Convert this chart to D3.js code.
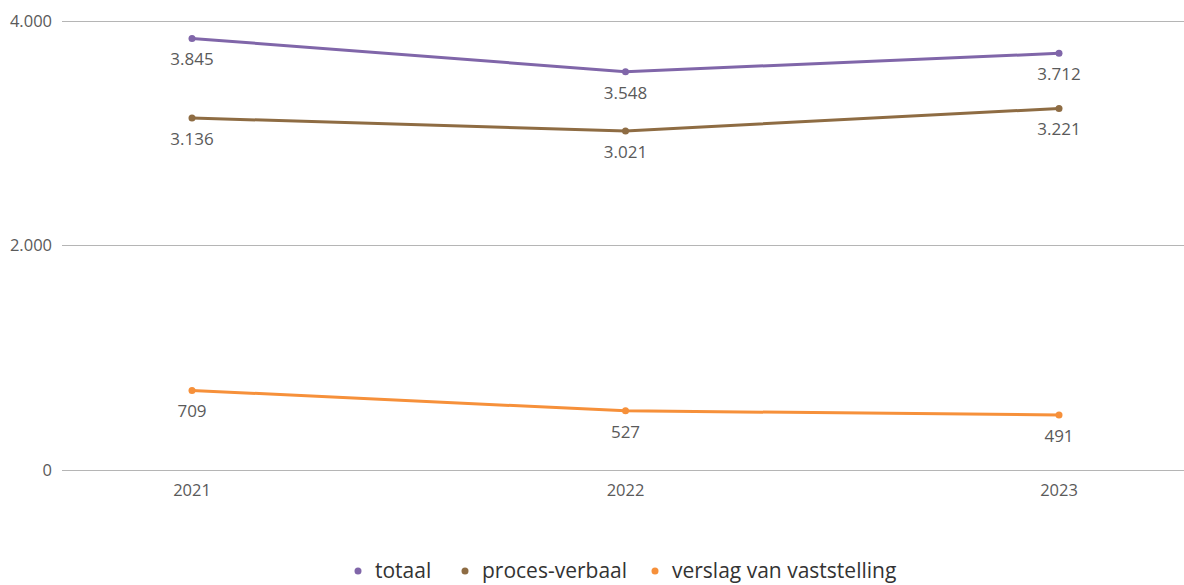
<!DOCTYPE html>
<html><head><meta charset="utf-8">
<script src="https://cdn.jsdelivr.net/npm/d3@7"></script>
<style>body{margin:0;background:#fff;}svg{display:block;font-family:"Open Sans",sans-serif;}</style>
</head><body><svg id="c" width="1184" height="585"></svg>
<script>
const years = ["2021","2022","2023"];
const seriesNames = ["totaal","proces-verbaal","verslag van vaststelling"];
const totaal = [3845,3548,3712];
const procesVerbaal = [3136,3021,3221];
const verslag = [709,527,491];
const yTicks = [0,2000,4000];
const colors = ["#8066a9","#8e6c43","#f6903a"];

const svg = d3.select("#c");
const x = d3.scalePoint().domain(years).range([192,1059]);
const y = d3.scaleLinear().domain([0,4000]).range([470,21]);
const fmt = d3.formatLocale({decimal:",",thousands:".",grouping:[3],currency:["",""]}).format(",d");

// grid
svg.append("g").selectAll("line").data(yTicks).join("line")
 .attr("x1",62).attr("x2",1184).attr("y1",d=>y(d)).attr("y2",d=>y(d))
 .attr("stroke","#b5b5b5").attr("stroke-width",1).attr("shape-rendering","crispEdges");
svg.append("g").selectAll("text").data(yTicks).join("text")
 .attr("x",52).attr("y",d=>y(d)).attr("dy","0.35em").attr("text-anchor","end")
 .attr("fill","#5a5a5a").attr("font-size",16.5).text(d=>fmt(d));
svg.append("g").selectAll("text").data(years).join("text")
 .attr("x",d=>x(d)).attr("y",496).attr("text-anchor","middle")
 .attr("fill","#5a5a5a").attr("font-size",16.5).text(d=>d);

const data = [totaal,procesVerbaal,verslag];
const line = d3.line().x((d,i)=>x(years[i])).y(d=>y(d));
data.forEach((s,k)=>{
 const g = svg.append("g");
 g.append("path").attr("d",line(s)).attr("fill","none").attr("stroke",colors[k]).attr("stroke-width",3);
 g.selectAll("circle").data(s).join("circle").attr("cx",(d,i)=>x(years[i])).attr("cy",d=>y(d)).attr("r",3.5).attr("fill",colors[k]);
 g.selectAll("text").data(s).join("text").attr("x",(d,i)=>x(years[i])).attr("y",d=>y(d)+27)
  .attr("text-anchor","middle").attr("fill","#5a5a5a").attr("font-size",17).text(d=>fmt(d));
});

// legend
const legX = [358,465,655];
const lg = svg.append("g");
seriesNames.forEach((n,k)=>{
 lg.append("circle").attr("cx",legX[k]).attr("cy",571).attr("r",3.5).attr("fill",colors[k]);
 lg.append("text").attr("x",legX[k]+17).attr("y",571).attr("dy","0.35em").attr("fill","#333").attr("font-size",21).text(n);
});
</script></body></html>
